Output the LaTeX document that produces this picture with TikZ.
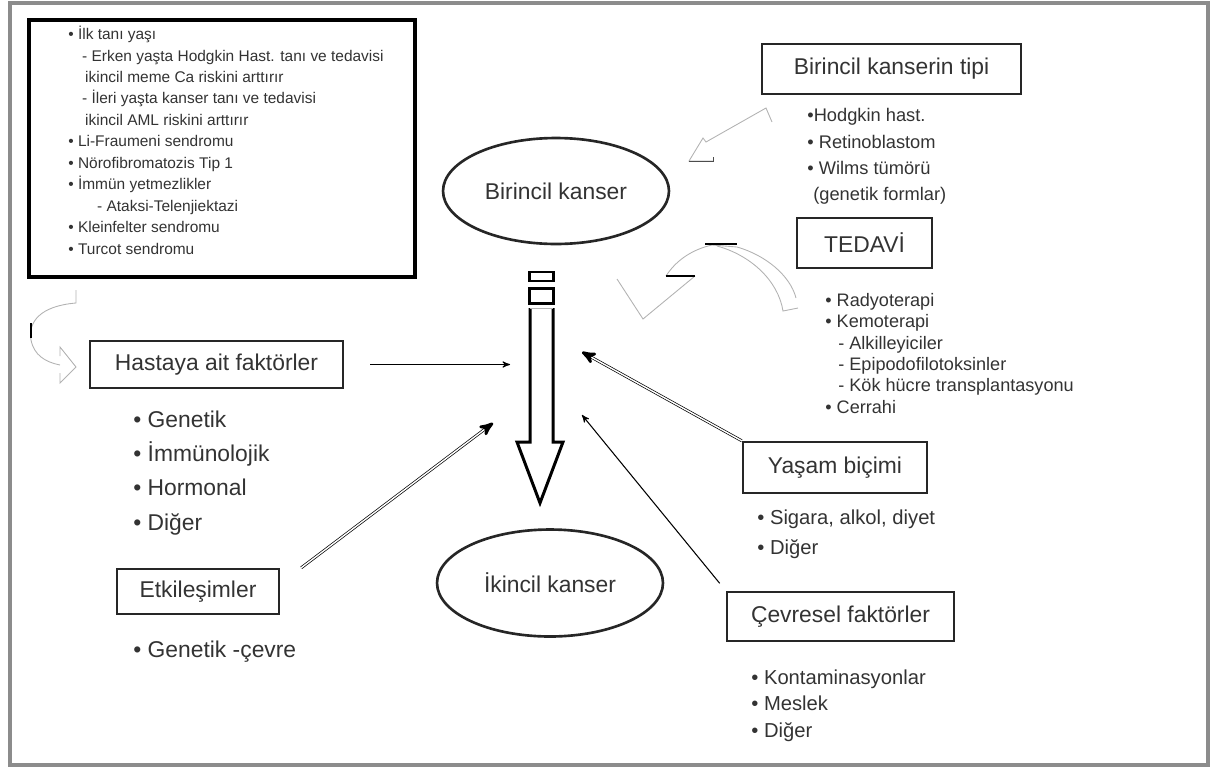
\documentclass[tikz,border=0pt]{standalone}
\usepackage{fontspec}
\setmainfont{Liberation Sans}
\usetikzlibrary{arrows,shapes.geometric}

\begin{document}
\begin{tikzpicture}[>=stealth',x=0.02cm,y=-0.02cm,
    kutu/.style={draw=black!85,line width=1.4pt,inner sep=0pt,text=black!80,font=\fontsize{13}{15}\selectfont},
    kanser/.style={ellipse,draw=black!85,line width=1.5pt,inner sep=0pt,minimum width=4.52cm,text=black!80,font=\fontsize{13}{15}\selectfont},
    liste/.style={align=left,anchor=base west,inner sep=0pt,text=black!80},
    deko/.style={draw=black!30,line width=0.5pt}]
    \useasboundingbox (0,0) rectangle (1216,771);
    \draw[black!45,line width=1.8pt] (10,3) rectangle (1208,765);

    \node[kanser,minimum height=2.12cm] (B1) at (556,191) {Birincil kanser};
    \node[kanser,minimum height=2.14cm] (B2) at (550,583) {İkincil kanser};

    \node[draw=black,line width=2pt,minimum width=7.72cm,minimum height=5.14cm] (K_ilk) at (222,148.5) {};
    \node[kutu,minimum width=5.18cm,minimum height=1.0cm] (K_tip) at (891.5,69) {Birincil kanserin tipi};
    \node[kutu,minimum width=2.7cm,minimum height=1.0cm] (K_ted) at (864.5,243) {TEDAVİ};
    \node[kutu,minimum width=5.06cm,minimum height=0.94cm] (K_has) at (216.5,364.5) {Hastaya ait faktörler};
    \node[kutu,minimum width=3.24cm,minimum height=0.9cm] (K_etk) at (198,591.5) {Etkileşimler};
    \node[kutu,minimum width=3.68cm,minimum height=1.02cm] (K_yas) at (835,467.5) {Yaşam biçimi};
    \node[kutu,minimum width=4.54cm,minimum height=0.98cm] (K_cev) at (840.5,616.5) {Çevresel faktörler};

    % base = son satirin tabani
    \node[liste,font=\fontsize{8.8}{12.2}\selectfont] (L_ilk) at (68,254) {• İlk tanı yaşı\\
        \hspace*{7.9pt}- Erken yaşta Hodgkin Hast. tanı ve tedavisi\\
        \hspace*{9.6pt}ikincil meme Ca riskini arttırır\\
        \hspace*{7.9pt}- İleri yaşta kanser tanı ve tedavisi\\
        \hspace*{9.6pt}ikincil AML riskini arttırır\\
        • Li-Fraumeni sendromu\\
        • Nörofibromatozis Tip 1\\
        • İmmün yetmezlikler\\
        \hspace*{16.4pt}- Ataksi-Telenjiektazi\\
        • Kleinfelter sendromu\\
        • Turcot sendromu};
    \node[liste,font=\fontsize{10.4}{14.8}\selectfont] (L_tip) at (807,200) {•Hodgkin hast.\\
        • Retinoblastom\\
        • Wilms tümörü\\
        \hspace*{3.4pt}(genetik formlar)};
    \node[liste,font=\fontsize{10.3}{12.1}\selectfont] (L_ted) at (825,413) {• Radyoterapi\\
        • Kemoterapi\\
        \hspace*{7.4pt}- Alkilleyiciler\\
        \hspace*{7.4pt}- Epipodofilotoksinler\\
        \hspace*{7.4pt}- Kök hücre transplantasyonu\\
        • Cerrahi};
    \node[liste,font=\fontsize{13}{19.5}\selectfont] (L_has) at (133,530) {• Genetik\\
        • İmmünolojik\\
        • Hormonal\\
        • Diğer};
    \node[liste,font=\fontsize{13}{15}\selectfont] (L_etk) at (133,657) {• Genetik -çevre};
    \node[liste,font=\fontsize{11.5}{17}\selectfont] (L_yas) at (757,554) {• Sigara, alkol, diyet\\
        • Diğer};
    \node[liste,font=\fontsize{11.5}{14.9}\selectfont] (L_cev) at (751,737) {• Kontaminasyonlar\\
        • Meslek\\
        • Diğer};

    % buyuk ok
    \draw[line width=1.7pt,line join=miter] (530,308) -- (530,442) -- (517,442) -- (540,503) -- (563,442) -- (553,442) -- (553,308);
    \draw[black!30,line width=0.5pt] (530,308) -- (553,308);
    \draw[line width=1.7pt] (529,272) rectangle (553,281);
    \draw[line width=1.7pt] (529,288) rectangle (553,303);

    \draw[deko] (772,122) -- (766,108) -- (706,142) -- (703,138) -- (689,161) -- (713,161);
    \draw[black!70,line width=0.5pt] (689,161) -- (713,161) -- (713,157);
    \draw[deko] (712,245) -- (737,247) .. controls (765,255) and (790,275) .. (796,298);
    \draw[deko] (717,246) .. controls (750,255) and (778,280) .. (783,311) -- (798,308);
    \draw[deko] (712,245) .. controls (690,250) and (675,262) .. (666,276);
    \draw[deko] (695,276) -- (643,319) -- (617,279);
    \draw[black,line width=0.6pt] (666,276) -- (695,276);
    \draw[black,line width=0.6pt] (705,244) -- (737,244);
    \draw[deko] (76,290) -- (76,303) .. controls (40,306) and (28,322) .. (31,340) .. controls (34,355) and (45,362) .. (60,365);
    \draw[deko] (60,356) -- (60,347) -- (76,367) -- (60,383) -- (60,373);
    \draw[black,line width=0.6pt] (31,323) -- (31,338);

    \coordinate (C_has) at (510,364.5);
    \coordinate (C_etk) at (493,423);
    \coordinate (C_yas) at (582,352);
    \coordinate (C_cev) at (582,415);

    \tikzset{tekok/.style={->,line width=0.6pt},ciftok/.style={->,double=white,double distance=0.8pt,line width=0.4pt}}
    %\tikzset{every edge/.style={draw,black!70}}
    \path (K_has.east) edge [tekok,shorten <=14.7pt] (C_has);
    \path ([xshift=0.42cm]K_etk.north east) edge [ciftok] (C_etk);
    \path (K_yas.north west) edge [ciftok] (C_yas);
    \path (K_cev.north west) edge [tekok,shorten <=5.5pt] (C_cev);
\end{tikzpicture}
\end{document}
